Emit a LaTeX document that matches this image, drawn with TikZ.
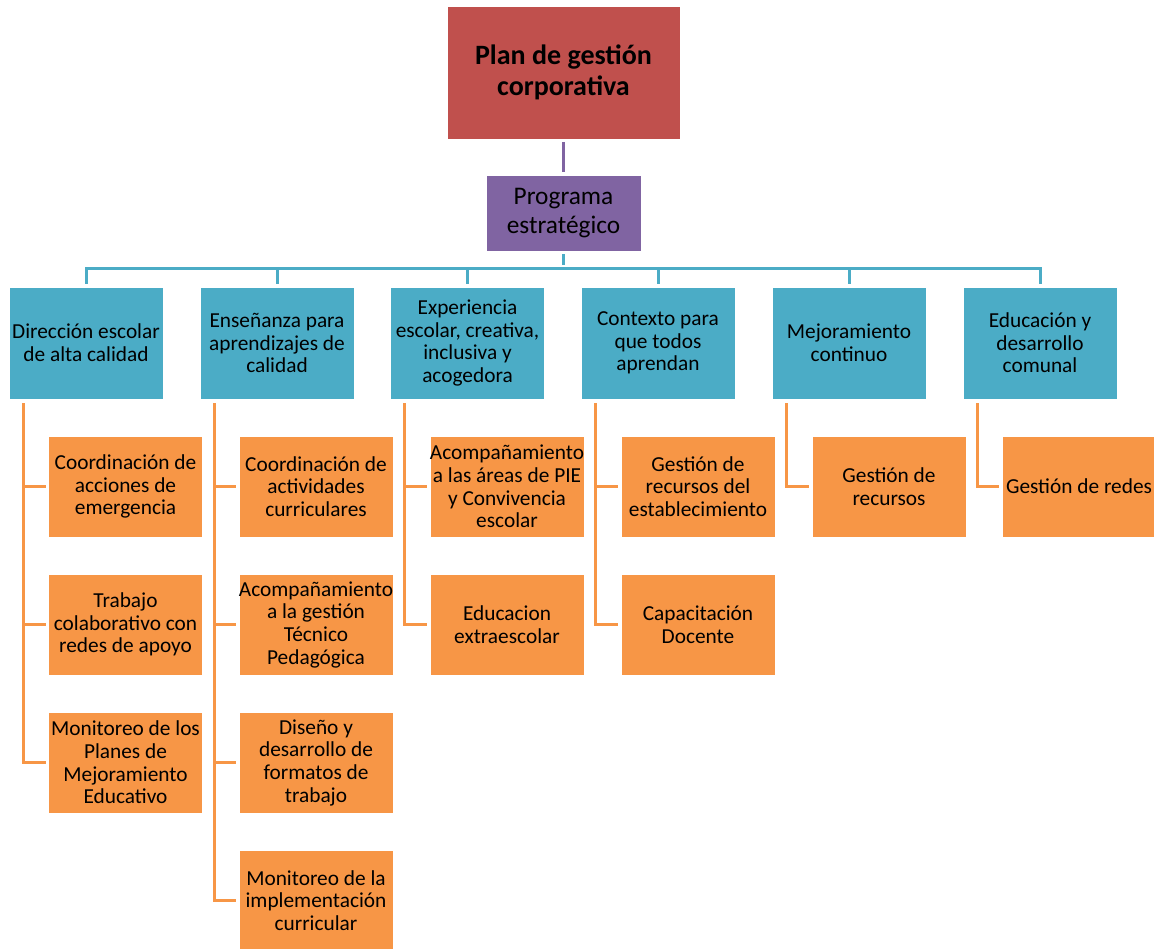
\documentclass[tikz,border=0pt]{standalone}
\usepackage{fontspec}
\setmainfont{Carlito}
\definecolor{planred}{HTML}{C0504D}
\definecolor{progviolet}{HTML}{8064A2}
\definecolor{areablue}{HTML}{4BACC6}
\definecolor{taskorange}{HTML}{F79646}

\begin{document}
\begin{tikzpicture}[x=0.75pt, y=-0.75pt,
  box/.style={draw=white, line width=0.5pt, align=center, inner sep=0pt, text=black,
    font=\fontsize{16}{17}\selectfont},
  planbox/.style={box, fill=planred, minimum width=174.75pt, minimum height=99.75pt,
    font=\fontsize{21}{23}\selectfont\bfseries},
  progbox/.style={box, fill=progviolet, minimum width=116.25pt, minimum height=57pt,
    font=\fontsize{19}{22}\selectfont},
  areabox/.style={box, fill=areablue, minimum width=115.5pt, minimum height=84pt},
  taskbox/.style={box, fill=taskorange, minimum width=115.5pt, minimum height=75.75pt},
  link/.style={line width=2.25pt, shorten <=2pt, shorten >=2pt},
  bus/.style={link, draw=areablue},
  branch/.style={link, draw=taskorange, shorten <=3pt}
]
\useasboundingbox (0,0) rectangle (1154,949);

% top levels
\node[planbox] (plan) at (563.5,72.5) {Plan de gestión\\corporativa};
\node[progbox] (prog) at (563.5,213) {Programa\\estratégico};

% areas
\node[areabox] (dir) at (86,343) {Dirección escolar\\de alta calidad};
\node[areabox] (ens) at (277,343) {Enseñanza para\\aprendizajes de\\calidad};
\node[areabox] (exp) at (467.5,343) {Experiencia\\escolar, creativa,\\inclusiva y\\acogedora};
\node[areabox] (ctx) at (658,343) {Contexto para\\que todos\\aprendan};
\node[areabox] (mej) at (849,343) {Mejoramiento\\continuo};
\node[areabox] (edu) at (1040,343) {Educación y\\desarrollo\\comunal};

% tasks
\node[taskbox] (dir1) at (125.5,486.5) {Coordinación de\\acciones de\\emergencia};
\node[taskbox] (dir2) at (125.5,624.5) {Trabajo\\colaborativo con\\redes de apoyo};
\node[taskbox] (dir3) at (125.5,762.5) {Monitoreo de los\\Planes de\\Mejoramiento\\Educativo};

\node[taskbox] (ens1) at (316,486.5) {Coordinación de\\actividades\\curriculares};
\node[taskbox] (ens2) at (316,624.5) {Acompañamiento\\a la gestión\\Técnico\\Pedagógica};
\node[taskbox] (ens3) at (316,762.5) {Diseño y\\desarrollo de\\formatos de\\trabajo};
\node[taskbox] (ens4) at (316,900.5) {Monitoreo de la\\implementación\\curricular};

\node[taskbox] (exp1) at (507,486.5) {Acompañamiento\\a las áreas de PIE\\y Convivencia\\escolar};
\node[taskbox] (exp2) at (507,624.5) {Educacion\\extraescolar};

\node[taskbox] (ctx1) at (698,486.5) {Gestión de\\recursos del\\establecimiento};
\node[taskbox] (ctx2) at (698,624.5) {Capacitación\\Docente};

\node[taskbox] (mej1) at (889,486.5) {Gestión de\\recursos};

\node[taskbox] (edu1) at (1079,486.5) {Gestión de redes};

% connectors
\draw[link, draw=progviolet] (plan) -- (prog);
\coordinate (hub) at (563.5,268);
\draw[bus] (prog) -- (hub);
\draw[bus, shorten <=0pt] (hub) -| (dir);
\draw[bus, shorten <=0pt] (hub) -| (ens);
\draw[bus, shorten <=0pt] (hub) -| (exp);
\draw[bus, shorten <=0pt] (hub) -| (ctx);
\draw[bus, shorten <=0pt] (hub) -| (mej);
\draw[bus, shorten <=0pt] (hub) -| (edu);

\draw[branch] ([xshift=10.9pt]dir.south west) |- (dir1);
\draw[branch] ([xshift=10.9pt]dir.south west) |- (dir2);
\draw[branch] ([xshift=10.9pt]dir.south west) |- (dir3);

\draw[branch] ([xshift=10.9pt]ens.south west) |- (ens1);
\draw[branch] ([xshift=10.9pt]ens.south west) |- (ens2);
\draw[branch] ([xshift=10.9pt]ens.south west) |- (ens3);
\draw[branch] ([xshift=10.9pt]ens.south west) |- (ens4);

\draw[branch] ([xshift=10.9pt]exp.south west) |- (exp1);
\draw[branch] ([xshift=10.9pt]exp.south west) |- (exp2);

\draw[branch] ([xshift=10.9pt]ctx.south west) |- (ctx1);
\draw[branch] ([xshift=10.9pt]ctx.south west) |- (ctx2);

\draw[branch] ([xshift=10.9pt]mej.south west) |- (mej1);

\draw[branch] ([xshift=10.9pt]edu.south west) |- (edu1);

\end{tikzpicture}
\end{document}
